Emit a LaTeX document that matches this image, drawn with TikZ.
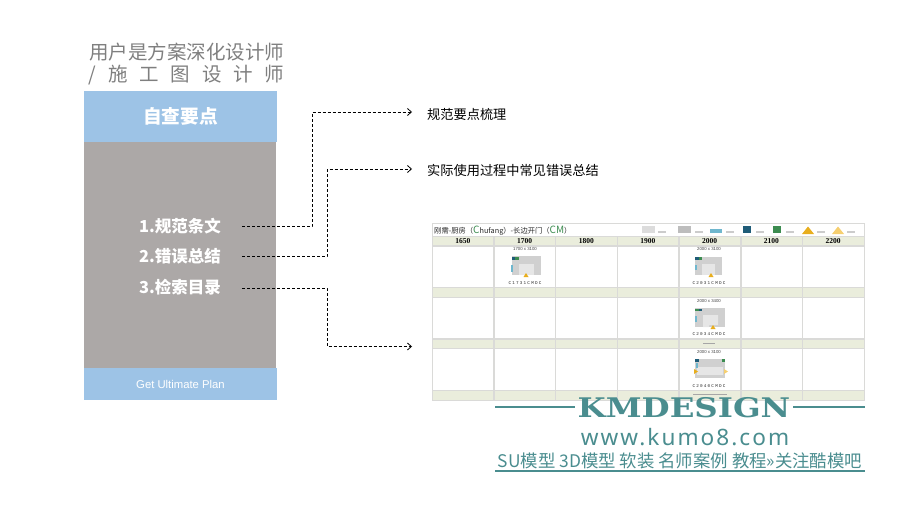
\documentclass[tikz,border=0pt]{standalone}
\usepackage{fontspec}
\setmainfont{Liberation Sans}
\newfontfamily\cjk{Noto Sans CJK SC}
\newfontfamily\headfont{Liberation Serif}
\newfontfamily\logofont{DejaVu Serif}
\newfontfamily\webfont[LetterSpace=9]{Noto Sans}
\newfontfamily\codefont[LetterSpace=28]{Liberation Mono}
\usetikzlibrary{matrix,arrows.meta}

\definecolor{panelblue}{HTML}{9DC3E6}
\definecolor{panelgray}{HTML}{ACA8A7}
\definecolor{titlegray}{HTML}{7F7F7F}
\definecolor{bandgreen}{HTML}{EAEDDC}
\definecolor{gridgray}{HTML}{DADAD8}
\definecolor{logoteal}{HTML}{4A8D8F}
\definecolor{planlight}{HTML}{E6E6E6}
\definecolor{plangray}{HTML}{D0D0D0}
\definecolor{legendgray}{HTML}{BDBDBD}
\definecolor{doorblue}{HTML}{6FB7CE}
\definecolor{fridgeteal}{HTML}{1F5C78}
\definecolor{washgreen}{HTML}{3C8C50}
\definecolor{doororange}{HTML}{E8AE1E}
\definecolor{dooryellow}{HTML}{F6CF70}

\tikzset{
  panel/.style={fill=#1, minimum width=193pt, inner sep=0pt, outer sep=0pt, anchor=north west},
  itemtext/.style={font=\cjk\bfseries\fontsize{16.5}{20}\selectfont, text=white},
  notetext/.style={font=\cjk\fontsize{13.2}{15}\selectfont, anchor=west, text=black, inner sep=0pt},
  linkline/.style={dash pattern=on 3pt off 2pt, line width=0.8pt, -{Straight Barb[length=4pt,width=7pt]}},
  sizetext/.style={font=\fontsize{4.3}{5}\selectfont, text=black!75},
  codetext/.style={font=\codefont\fontsize{4.3}{5}\selectfont, text=black!85},
}

\begin{document}
\begin{tikzpicture}[x=1pt,y=-1pt]
\useasboundingbox (0,0) rectangle (900,506);

% left column
\node (userline) [font=\cjk\fontsize{19.5}{22}\selectfont, text=titlegray, inner sep=0pt] at (186.5,52) {用户是方案深化设计师};
\node (userrole) [font=\cjk\fontsize{19.5}{22}\selectfont, text=titlegray, inner sep=0pt] at (186.5,75)
  {\makebox[196pt][s]{/\hfill 施\hfill 工\hfill 图\hfill 设\hfill 计\hfill 师}};
\node (checkhead) [panel=panelblue, minimum height=51pt, font=\cjk\bfseries\fontsize{18.7}{24}\selectfont, text=white] at (84,91) {自查要点};
\node (checkbody) [panel=panelgray, minimum height=226pt, minimum width=192pt] at (84,142) {};
\node (checkfoot) [panel=panelblue, minimum height=32pt, font=\fontsize{11.3}{13}\selectfont, text=white] at (84,368) {Get Ultimate Plan};
\node (itemrule) [itemtext] at (180,226) {1.规范条文};
\node (itemerror) [itemtext] at (180,256.5) {2.错误总结};
\node (itemindex) [itemtext] at (180,287) {3.检索目录};

% notes and links
\node (noterule) [notetext] at (427,114.5) {规范要点梳理};
\node (noteerror) [notetext] at (427,170.5) {实际使用过程中常见错误总结};
\coordinate (startrule) at (242,226.5);
\coordinate (starterror) at (242,256.5);
\coordinate (startindex) at (242,288);
\coordinate (endrule) at (412,112);
\coordinate (enderror) at (412,169);
\coordinate (endindex) at (412,346.5);
\draw [linkline] (startrule) -| (312,112) -- (endrule);
\draw [linkline] (starterror) -| (327,169) -- (enderror);
\draw [linkline] (startindex) -| (327,346.5) -- (endindex);

% table
\node (tabletitle) [draw=gridgray, line width=0.7pt, minimum width=432pt, minimum height=13pt, inner sep=0pt, outer sep=0pt, anchor=north west] at (432,223) {};
\node (tablename) [anchor=west, inner sep=0pt, font=\cjk\fontsize{7.3}{8}\selectfont, text=black!85] at (434,230.5)
  {刚需-厨房（\textcolor{washgreen}{\fontsize{10}{9}\selectfont C}hufang）-长边开门（\textcolor{washgreen}{\fontsize{10}{9}\selectfont CM}）};
\matrix (plans) [matrix of nodes,
         anchor=north west,
         column sep=0pt, row sep=0pt,
         nodes in empty cells,
         nodes={rectangle, draw=gridgray, line width=0.4pt,
                minimum width=61.3pt,
                inner sep=0pt, outer sep=0pt,
                anchor=center},
         row 1/.style={nodes={fill=bandgreen, minimum height=9.1pt, font=\headfont\bfseries\fontsize{7.5}{8}\selectfont}},
         row 2/.style={nodes={minimum height=41.4pt}},
         row 3/.style={nodes={fill=bandgreen, minimum height=9.5pt}},
         row 4/.style={nodes={minimum height=40.9pt}},
         row 5/.style={nodes={fill=bandgreen, minimum height=9.5pt}},
         row 6/.style={nodes={minimum height=41.4pt}},
         row 7/.style={nodes={fill=bandgreen, minimum height=9.5pt}},
         inner sep=0pt, outer sep=0pt,
         ] at (432,236)
{
  1650 & 1700 & 1800 & 1900 & 2000 & 2100 & 2200 \\
  & & & & & & \\
  & & & & & & \\
  & & & & & & \\
  & & & & & & \\
  & & & & & & \\
  & & & & & & \\
};

% legend
\fill [plangray!75] (642,226) rectangle (655,233);
\fill [legendgray] (678,226) rectangle (691,233);
\fill [doorblue] (710,229) rectangle (722,233);
\fill [fridgeteal] (743,226) rectangle (751,233);
\fill [washgreen] (773,226) rectangle (781,233);
\fill [doororange] (802,234) -- (808,226.5) -- (814,234) -- cycle;
\fill [dooryellow] (832,234) -- (838,226.5) -- (844,234) -- cycle;
\foreach \gx in {658,695,726,756,786,817,847}
  \draw [black!20, line width=1.2pt] (\gx,232) -- ++(8,0);

% sizes and codes
\foreach \cx/\sy/\dims/\cy/\code in {525/249/1700 x 3100/283/C1731CMDC, 709/249/2000 x 3100/283/C2031CMDC,
                                     709/301/2000 x 3400/334.5/C2034CMDC, 709/352/2000 x 3100/386/C2040CMDC}
{
  \node (dims\code) [sizetext] at (\cx,\sy) {\dims};
  \node (code\code) [codetext] at (\cx,\cy) {\code};
}
\draw [black!35, line width=1.2pt] (703,343.5) -- (715,343.5);
\draw [black!35, line width=1.2pt] (693,394.5) -- (727,394.5);

% thumbnails
\fill [plangray] (512,256) rectangle (541,275);
\fill [planlight] (519,264) rectangle (534,275);
\fill [washgreen] (515,257) rectangle (518.5,259.5);
\fill [fridgeteal] (512,257) rectangle (515,259.5);
\fill [doorblue] (511,265) rectangle (513,272);
\fill [doororange] (523.5,277) -- (526,273) -- (528.5,277) -- cycle;

\fill [plangray] (695,257) rectangle (722,275);
\fill [planlight] (702,264) rectangle (715,275);
\fill [washgreen] (698.5,257) rectangle (701.5,259.5);
\fill [fridgeteal] (695,257) rectangle (698.5,259.5);
\fill [doorblue] (695,265) rectangle (697,270);
\fill [doororange] (708.5,277) -- (711,273) -- (713.5,277) -- cycle;

\fill [plangray] (695,308) rectangle (725,327);
\fill [planlight] (703,315) -- (718,315) -- (718,325) -- (709,325) -- (709,327) -- (703,327) -- cycle;
\fill [washgreen] (695,309) rectangle (698.5,311);
\fill [fridgeteal] (698.5,309) rectangle (702,311);
\fill [doorblue] (695,316) rectangle (697,322);
\fill [doororange] (710.5,329) -- (713,325) -- (715.5,329) -- cycle;

\fill [plangray] (695,359) rectangle (725,378);
\fill [planlight] (697,367) rectangle (723,375);
\fill [fridgeteal] (695,359) rectangle (699,362);
\fill [washgreen] (722,359) rectangle (725,362);
\fill [doorblue] (696,363) rectangle (698,368);
\fill [doororange] (694,369) -- (698,371.5) -- (694,374) -- cycle;
\fill [dooryellow] (724,369) -- (728,371.5) -- (724,374) -- cycle;

% logo
\node (logoname) [font=\logofont\bfseries\fontsize{27}{32}\selectfont, text=logoteal, inner sep=0pt, xscale=1.2, transform shape] at (684,407.5) {KMDESIGN};
\node (logoweb) [font=\webfont\fontsize{22.6}{24}\selectfont, text=logoteal, inner sep=0pt] at (685,437) {www.kumo8.com};
\node (logotags) [font=\cjk\fontsize{17.4}{20}\selectfont, text=logoteal, inner sep=0pt] at (680,460.5) {SU模型 3D模型 软装 名师案例 教程»关注酷模吧};
\coordinate (ruleleft) at (495,407);
\coordinate (ruleright) at (865,407);
\coordinate (tagleft) at (495,471);
\coordinate (tagright) at (865,471);
\draw [logoteal, line width=1.3pt] (ruleleft) -- (575,407);
\draw [logoteal, line width=1.3pt] (793,407) -- (ruleright);
\draw [logoteal, line width=1.3pt] (tagleft) -- (tagright);
\end{tikzpicture}
\end{document}
